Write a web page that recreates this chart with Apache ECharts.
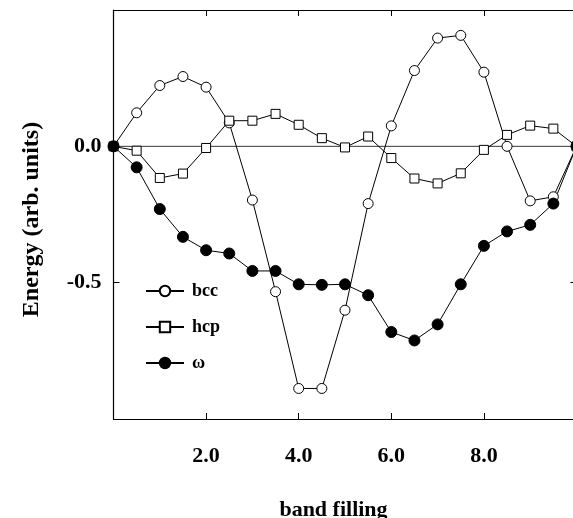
<!DOCTYPE html>
<html>
<head>
<meta charset="utf-8">
<script src="https://cdn.jsdelivr.net/npm/echarts@6/dist/echarts.min.js"></script>
<style>
html,body{margin:0;padding:0;background:#fff;overflow:hidden;width:573px;height:518px;}
#chart{width:580px;height:518px;}
</style>
</head>
<body>
<div id="chart"></div>
<script>
const bandFilling = [0, 0.5, 1, 1.5, 2, 2.5, 3, 3.5, 4, 4.5, 5, 5.5, 6, 6.5, 7, 7.5, 8, 8.5, 9, 9.5, 10];
const bcc   = [0, 0.123, 0.223, 0.256, 0.217, 0.086, -0.197, -0.533, -0.888, -0.888, -0.601, -0.21, 0.075, 0.278, 0.397, 0.407, 0.272, 0.0, -0.2, -0.185, 0.0];
const hcp   = [0, -0.016, -0.116, -0.10, -0.006, 0.094, 0.094, 0.119, 0.079, 0.03, -0.004, 0.036, -0.043, -0.118, -0.136, -0.099, -0.013, 0.042, 0.076, 0.065, 0.0];
const omega = [0, -0.077, -0.23, -0.332, -0.381, -0.393, -0.457, -0.457, -0.506, -0.508, -0.506, -0.546, -0.681, -0.712, -0.653, -0.506, -0.365, -0.312, -0.288, -0.21, 0.0];
const xTickLabels = {2: '2.0', 4: '4.0', 6: '6.0', 8: '8.0'};
const yTickLabels = {'0': '0.0', '-0.5': '-0.5'};
const seriesNames = ['bcc', 'hcp', 'ω'];
const xTitle = 'band filling';
const yTitle = 'Energy (arb. units)';

const serif = '"Liberation Serif", "Times New Roman", serif';
const pairs = arr => bandFilling.map((x, i) => [x, arr[i]]);

const chart = echarts.init(document.getElementById('chart'), null, {renderer: 'canvas'});

const baseAxis = {
  type: 'value',
  axisLine: {show: true, onZero: false, lineStyle: {color: '#000', width: 1.2}},
  axisTick: {show: true, inside: true, length: 6, lineStyle: {color: '#000', width: 1}},
  splitLine: {show: false}
};

chart.setOption({
  animation: false,
  backgroundColor: '#fff',
  grid: {left: 113.5, top: 10, right: 3.5, bottom: 99, containLabel: false},
  xAxis: [
    Object.assign({}, baseAxis, {
      position: 'bottom', min: 0, max: 10, interval: 2,
      axisLabel: {
        show: true, margin: 26, color: '#000',
        fontFamily: serif, fontWeight: 'bold', fontSize: 22,
        formatter: v => xTickLabels[v] || ''
      }
    }),
    Object.assign({}, baseAxis, {
      position: 'top', min: 0, max: 10, interval: 2,
      axisLabel: {show: false}
    })
  ],
  yAxis: [
    Object.assign({}, baseAxis, {
      position: 'left', min: -1, max: 0.5, interval: 0.5,
      axisLabel: {
        show: true, margin: 12, color: '#000',
        fontFamily: serif, fontWeight: 'bold', fontSize: 22,
        formatter: v => yTickLabels[String(Math.round(v * 10) / 10)] || ''
      }
    }),
    Object.assign({}, baseAxis, {
      position: 'right', min: -1, max: 0.5, interval: 0.5,
      axisLabel: {show: false}
    })
  ],
  legend: {
    data: seriesNames,
    orient: 'vertical',
    left: 145, top: 282,
    padding: 0,
    itemWidth: 38, itemHeight: 13, itemGap: 18,
    textStyle: {color: '#000', fontFamily: serif, fontWeight: 'bold', fontSize: 18, padding: [0, 0, 0, 3]}
  },
  series: [
    {
      name: 'zero', type: 'line', silent: true, symbol: 'none',
      data: [[0, 0], [10, 0]],
      lineStyle: {color: '#000', width: 0.8}, z: 1
    },
    {
      name: seriesNames[0], type: 'line', data: pairs(bcc),
      symbol: 'circle', symbolSize: 10,
      lineStyle: {color: '#000', width: 1},
      itemStyle: {color: '#fff', borderColor: '#000', borderWidth: 1}, z: 3
    },
    {
      name: seriesNames[1], type: 'line', data: pairs(hcp),
      symbol: 'rect', symbolSize: 9,
      lineStyle: {color: '#000', width: 1},
      itemStyle: {color: '#fff', borderColor: '#000', borderWidth: 1}, z: 3
    },
    {
      name: seriesNames[2], type: 'line', data: pairs(omega),
      symbol: 'circle', symbolSize: 11,
      lineStyle: {color: '#000', width: 1},
      itemStyle: {color: '#000', borderColor: '#000', borderWidth: 1}, z: 3
    }
  ],
  graphic: [
    {
      type: 'text', x: 333.5, y: 510,
      style: {text: xTitle, fill: '#000', font: 'bold 22px ' + serif,
        align: 'center', verticalAlign: 'middle', textAlign: 'center', textVerticalAlign: 'middle'}
    },
    {
      type: 'text', x: 32, y: 219.5, rotation: Math.PI / 2,
      style: {text: yTitle, fill: '#000', font: 'bold 24px ' + serif,
        align: 'center', verticalAlign: 'middle', textAlign: 'center', textVerticalAlign: 'middle'}
    }
  ]
});
</script>
</body>
</html>
